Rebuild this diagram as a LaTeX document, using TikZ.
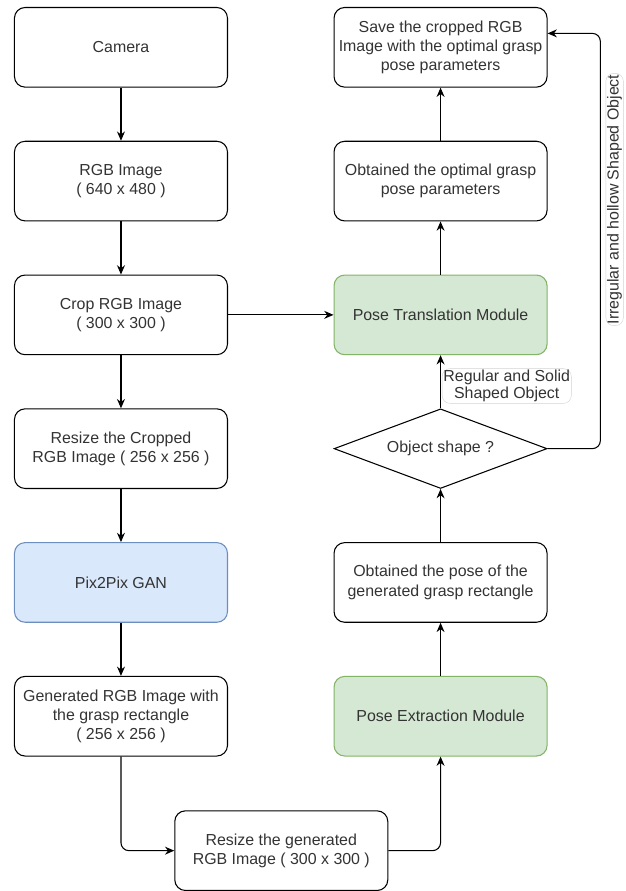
\documentclass[tikz,border=0pt]{standalone}
\usepackage{fontspec}
\setmainfont{Liberation Sans}
\usepackage{tikz}
\usetikzlibrary{calc, positioning, arrows.meta, shapes.geometric}
\usepackage{xcolor}
\definecolor{txtgray}{RGB}{51, 51, 51}
\definecolor{modgreen}{RGB}{213, 232, 212}
\definecolor{modgreenline}{RGB}{130, 179, 102}
\definecolor{ganblue}{RGB}{218, 232, 252}
\definecolor{ganblueline}{RGB}{108, 142, 191}

\begin{document}
\begin{tikzpicture}[
  box/.style={draw, rounded corners=8pt, minimum width=160.5pt,
              minimum height=60pt, align=center, line width=0.8pt,
              text=txtgray, font=\fontsize{12}{14.5}\selectfont},
  module/.style={box, fill=modgreen, draw=modgreenline},
  decision/.style={diamond, draw, aspect=2.675, minimum width=160.5pt,
              minimum height=60pt, inner sep=0pt, line width=0.8pt,
              text=txtgray, font=\fontsize{12}{14.5}\selectfont},
  lbl/.style={fill=white, draw=gray!35, line width=0.3pt, inner sep=1pt,
              align=center, text=txtgray, font=\fontsize{12}{13}\selectfont},
  flow/.style={-{Stealth[length=7pt, width=6pt]}, line width=0.8pt, rounded corners=6pt},
  >=Stealth
]
  % left column
  \node[box] (cam) {Camera};
  \node[box, below=40pt of cam] (rgb) {RGB Image\\( 640 x 480 )};
  \node[box, below=40pt of rgb] (crop) {Crop RGB Image\\( 300 x 300 )};
  \node[box, below=40pt of crop] (rcrop)
    {Resize the Cropped\\RGB Image ( 256 x 256 )};
  \node[box, fill=ganblue, draw=ganblueline, below=40pt of rcrop] (gan) {Pix2Pix GAN};
  \node[box, below=40pt of gan] (gen)
    {Generated RGB Image with\\the grasp rectangle\\( 256 x 256 )};
  \node[box, below right=40.5pt and -40.5pt of gen] (rgen)
    {Resize the generated\\RGB Image ( 300 x 300 )};

  % right column
  \node[module, right=79.5pt of gen] (pext) {Pose Extraction Module};
  \node[box, above=40pt of pext] (opose)
    {Obtained the pose of the\\generated grasp rectangle};
  \node[decision, above=40pt of opose] (shape) {Object shape ?};
  \node[module, above=40pt of shape] (ptrans) {Pose Translation Module};
  \node[box, above=40pt of ptrans] (oparam)
    {Obtained the optimal grasp\\pose parameters};
  \node[box, above=40pt of oparam] (save)
    {Save the cropped RGB\\Image with the optimal grasp\\pose parameters};
  \coordinate[right=39.75pt of shape.east] (loop);
  \coordinate[above=10.5pt of save.east] (savein);

  \useasboundingbox ($(cam.north west)+(-10.5pt,5.25pt)$) rectangle ++(471pt,-668.25pt);

  \draw[flow] (cam) -- (rgb);
  \draw[flow] (rgb) -- (crop);
  \draw[flow] (crop) -- (rcrop);
  \draw[flow] (rcrop) -- (gan);
  \draw[flow] (gan) -- (gen);
  \draw[flow] (crop) -- (ptrans);
  \draw[flow] (gen) |- (rgen);
  \draw[flow] (rgen) -| (pext);
  \draw[flow] (pext) -- (opose);
  \draw[flow] (opose) -- (shape);
  \draw[flow] (shape) -- (ptrans)
    node[lbl, pos=0.42, anchor=west, xshift=1pt]{Regular and Solid\\Shaped Object};
  \draw[flow] (ptrans) -- (oparam);
  \draw[flow] (oparam) -- (save);
  \draw[flow] (shape.east) -- (loop) |- (savein)
    node[lbl, pos=0.3, rotate=90, anchor=north, yshift=-4pt]{Irregular and hollow Shaped Object};
\end{tikzpicture}
\end{document}
